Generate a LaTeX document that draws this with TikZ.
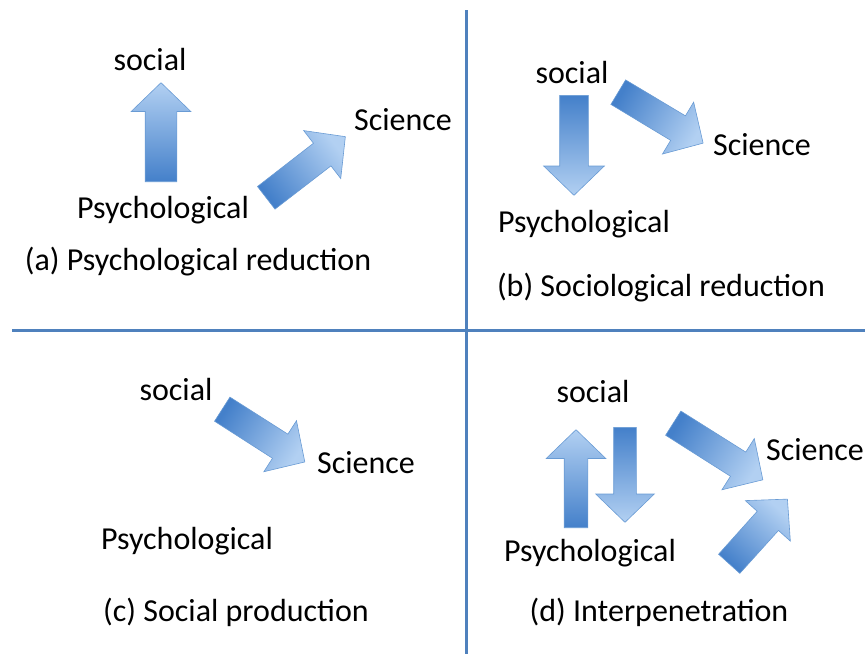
\documentclass[tikz,border=0pt]{standalone}
\usepackage{fontspec}
\setmainfont{Carlito}
\usetikzlibrary{shapes.arrows}
\definecolor{arrowdark}{RGB}{68,128,202}
\definecolor{arrowlight}{RGB}{178,208,242}
\definecolor{arrowedge}{RGB}{105,155,212}
\definecolor{divline}{RGB}{79,129,189}
\begin{document}
\begin{tikzpicture}[x=1pt,y=-1pt]
        \tikzset{lbl/.style = {font=\fontsize{32}{38}\selectfont, inner sep=0pt}}
        \tikzset{blockarrow/.style = {single arrow, draw=arrowedge, line width=0.6pt,
            left color=arrowdark, right color=arrowlight, rotate=#1, shading angle={#1+90},
            inner xsep=0pt, single arrow head extend=16pt, single arrow tip angle=92, anchor=tail}}
        \tikzset{divider/.style = {draw=divline, line width=3pt}}
        \useasboundingbox (0,0) rectangle (865,654);
        % dividing lines
        \coordinate (vtop) at (466,10);
        \coordinate (vbot) at (466,654);
        \coordinate (hleft) at (12,330);
        \coordinate (hright) at (865,330);
        \draw[divider] (vtop) -- (vbot);
        \draw[divider] (hleft) -- (hright);
        % (a) top left
        \node[lbl] (socA) at (150,60) {social};
        \node[lbl] (sciA) at (403,120) {Science};
        \node[lbl] (psyA) at (163,210) {Psychological};
        \node[lbl] (capA) at (198,262) {(a) Psychological reduction};
        \node[blockarrow=90, minimum height=99pt, inner ysep=15.5pt, single arrow head extend=14pt] (upA) at (161,182) {};
        \node[blockarrow=37.7, minimum height=100pt, inner ysep=14pt] (diagA) at (266,198) {};
        % (b) top right
        \node[lbl] (socB) at (572,73) {social};
        \node[lbl] (sciB) at (762,145) {Science};
        \node[lbl] (psyB) at (584,224) {Psychological};
        \node[lbl] (capB) at (661,288) {(b) Sociological reduction};
        \node[blockarrow=-90, minimum height=100pt, inner ysep=14pt] (downB) at (574,95) {};
        \node[blockarrow=-31, minimum height=99pt, inner ysep=14pt] (diagB) at (618,92) {};
        % (c) bottom left
        \node[lbl] (socC) at (176,390) {social};
        \node[lbl] (sciC) at (366,463) {Science};
        \node[lbl] (psyC) at (187,541) {Psychological};
        \node[lbl] (capC) at (236,612) {(c) Social production};
        \node[blockarrow=-32.6, minimum height=98pt, inner ysep=14pt] (diagC) at (222,409) {};
        % (d) bottom right
        \node[lbl] (socD) at (593,392) {social};
        \node[lbl] (sciD) at (815,450) {Science};
        \node[lbl] (psyD) at (590,553) {Psychological};
        \node[lbl] (capD) at (659,612) {(d) Interpenetration};
        \node[blockarrow=90, minimum height=98pt, inner ysep=11.5pt, single arrow head extend=18pt] (upD) at (576,528) {};
        \node[blockarrow=-90, minimum height=95pt, inner ysep=11pt, single arrow head extend=18pt] (downD) at (625,427) {};
        \node[blockarrow=-32.3, minimum height=106pt, inner ysep=14pt] (diagD) at (673,423) {};
        \node[blockarrow=48, minimum height=87pt, inner ysep=14pt] (lowD) at (729,564) {};
\end{tikzpicture}
\end{document}
